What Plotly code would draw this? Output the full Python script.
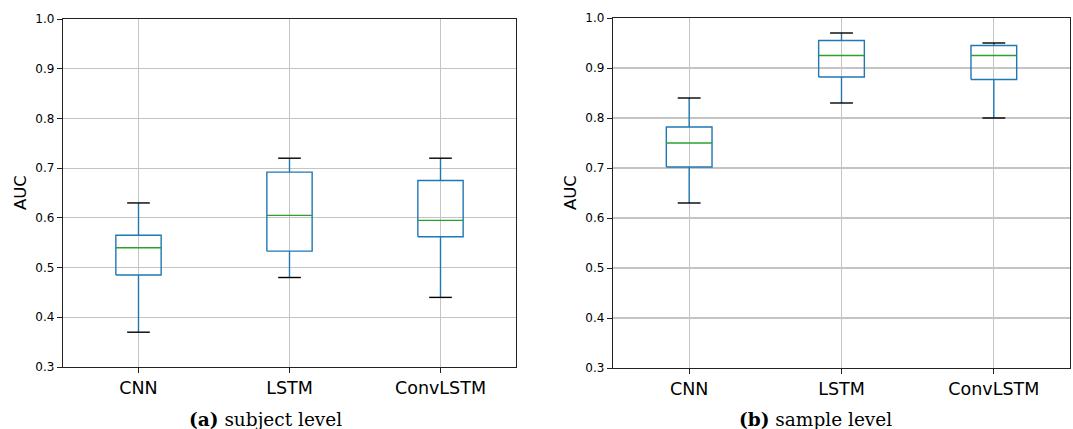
import plotly.graph_objects as go

categories = ["CNN", "LSTM", "ConvLSTM"]

# (a) subject level
subj_low = [0.37, 0.48, 0.44]
subj_q1 = [0.485, 0.533, 0.562]
subj_med = [0.540, 0.605, 0.595]
subj_q3 = [0.565, 0.692, 0.675]
subj_high = [0.63, 0.72, 0.72]

# (b) sample level
samp_low = [0.63, 0.83, 0.80]
samp_q1 = [0.702, 0.882, 0.877]
samp_med = [0.750, 0.925, 0.925]
samp_q3 = [0.782, 0.955, 0.945]
samp_high = [0.84, 0.97, 0.95]

y_ticks = [0.3, 0.4, 0.5, 0.6, 0.7, 0.8, 0.9, 1.0]

BLUE = "#1f77b4"
GREEN = "#2ca02c"
W = 1073
H = 429

fig = go.Figure()


def add_boxes(low, q1, med, q3, high, xa, ya):
    h = 0.15
    bx, by, wx, wy, cx, cy, mx, my = [], [], [], [], [], [], [], []
    for i in range(len(categories)):
        p = i + 1
        bx += [p - h, p + h, p + h, p - h, p - h, None]
        by += [q1[i], q1[i], q3[i], q3[i], q1[i], None]
        wx += [p, p, None, p, p, None]
        wy += [q1[i], low[i], None, q3[i], high[i], None]
        cx += [p - h / 2, p + h / 2, None, p - h / 2, p + h / 2, None]
        cy += [low[i], low[i], None, high[i], high[i], None]
        mx += [p - h, p + h, None]
        my += [med[i], med[i], None]
    common = dict(mode="lines", xaxis=xa, yaxis=ya, showlegend=False, hoverinfo="skip")
    fig.add_trace(go.Scatter(x=wx, y=wy, line=dict(color=BLUE, width=1.4), **common))
    fig.add_trace(go.Scatter(x=bx, y=by, line=dict(color=BLUE, width=1.4), **common))
    fig.add_trace(go.Scatter(x=cx, y=cy, line=dict(color="black", width=1.4), **common))
    fig.add_trace(go.Scatter(x=mx, y=my, line=dict(color=GREEN, width=1.4), **common))


add_boxes(subj_low, subj_q1, subj_med, subj_q3, subj_high, "x", "y")
add_boxes(samp_low, samp_q1, samp_med, samp_q3, samp_high, "x2", "y2")

xcommon = dict(
    range=[0.5, 3.5], tickvals=[1, 2, 3], ticktext=categories,
    showgrid=True, gridcolor="#c4c4c4", gridwidth=1.2,
    showline=True, linecolor="#222", linewidth=1.2, mirror=True,
    ticks="outside", ticklen=5, tickcolor="#222",
    tickfont=dict(family="DejaVu Sans", size=17.5, color="black"),
    zeroline=False, fixedrange=True,
)
ycommon = dict(
    range=[0.3, 1.0], tickvals=y_ticks, tickformat=".1f",
    showgrid=True, gridcolor="#c4c4c4", gridwidth=1.2,
    showline=True, linecolor="#222", linewidth=1.2, mirror=True,
    ticks="outside", ticklen=5, tickcolor="#222",
    tickfont=dict(family="DejaVu Sans", size=12, color="black"),
    zeroline=False, fixedrange=True,
)

fig.update_layout(
    width=W, height=H, autosize=False,
    margin=dict(l=0, r=0, t=0, b=0, pad=0, autoexpand=False),
    paper_bgcolor="white", plot_bgcolor="white",
    xaxis=dict(domain=[63 / W, 516 / W], anchor="y", **xcommon),
    yaxis=dict(domain=[1 - 367 / H, 1 - 19 / H], anchor="x", **ycommon),
    xaxis2=dict(domain=[613 / W, 1070 / W], anchor="y2", **xcommon),
    yaxis2=dict(domain=[1 - 368 / H, 1 - 18 / H], anchor="x2", **ycommon),
    annotations=[
        dict(text="AUC", x=20 / W, y=1 - 193 / H, xref="paper", yref="paper",
             xanchor="center", yanchor="middle",
             textangle=-90, showarrow=False,
             font=dict(family="DejaVu Sans", size=16.5, color="black")),
        dict(text="AUC", x=570 / W, y=1 - 193 / H, xref="paper", yref="paper",
             xanchor="center", yanchor="middle",
             textangle=-90, showarrow=False,
             font=dict(family="DejaVu Sans", size=16.5, color="black")),
        dict(text="<b>(a)</b> subject level", x=265 / W, y=1 - 419 / H,
             xref="paper", yref="paper", xanchor="center", yanchor="middle",
             showarrow=False,
             font=dict(family="DejaVu Serif", size=18.5, color="black")),
        dict(text="<b>(b)</b> sample level", x=815 / W, y=1 - 419 / H,
             xref="paper", yref="paper", xanchor="center", yanchor="middle",
             showarrow=False,
             font=dict(family="DejaVu Serif", size=18.5, color="black")),
    ],
)

fig.write_html(
    "out.html",
    config={"displayModeBar": False, "staticPlot": True},
    post_script="document.body.style.margin='0';document.body.style.overflow='hidden';",
)
